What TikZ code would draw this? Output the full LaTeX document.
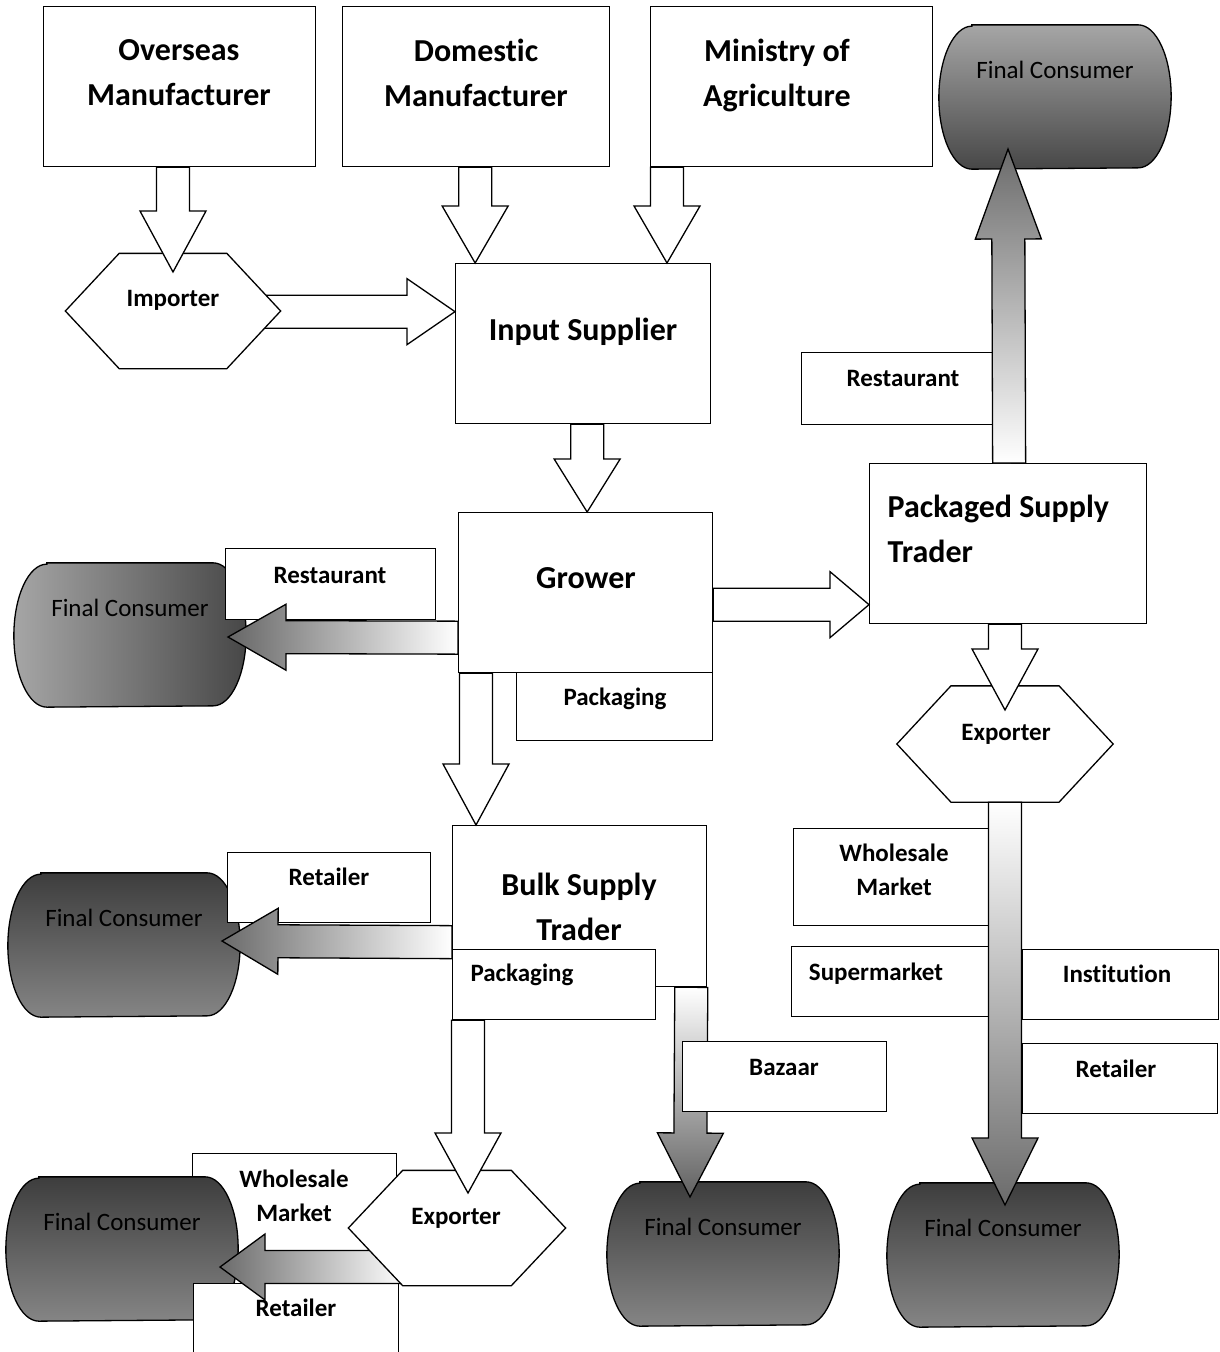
\documentclass[tikz,border=0pt]{standalone}
\usepackage{fontspec}
\setmainfont{Carlito}[Ligatures=NoCommon]
\usetikzlibrary{calc}

\tikzset{
  box/.style 2 args={draw, fill=white, anchor=north west, inner sep=0,
    minimum width=#1, minimum height=#2},
  shapeframe/.style 2 args={inner sep=0, minimum width=#1, minimum height=#2},
  big/.style={font=\fontsize{32}{45}\selectfont\bfseries, inner sep=0,
    text height=20.5pt, text depth=0pt},
  bigtwo/.style={font=\fontsize{32}{45}\selectfont\bfseries, inner sep=0, align=center},
  sml/.style={font=\fontsize{25}{34}\selectfont\bfseries, inner sep=0,
    text height=16pt, text depth=0pt},
  smltwo/.style={font=\fontsize{25}{34}\selectfont\bfseries, inner sep=0, align=center},
  fc/.style={font=\fontsize{25}{30}\selectfont, text=black, inner sep=0,
    text height=16pt, text depth=0pt},
  darkcons/.style={top color=black!76, bottom color=black!48},
}

% block arrow: [fill]{from}{to}{head length}
\newcommand{\fatarrow}[4][fill=white]{%
  \coordinate (fa-h) at ($(#3)!#4pt!(#2)$);
  \draw[#1] ($(#2)!16.5pt!90:(#3)$) -- ($(fa-h)!16.5pt!90:(#3)$)
    -- ($(fa-h)!33pt!90:(#3)$) -- (#3) -- ($(fa-h)!33pt!-90:(#3)$)
    -- ($(fa-h)!16.5pt!-90:(#3)$) -- ($(#2)!16.5pt!-90:(#3)$) -- cycle;}

% hexagon: {name}{centre}{width}{height}
\newcommand{\hexa}[4]{%
  \node[shapeframe={#3}{#4}] (#1) at (#2) {};
  \draw[fill=white] (#1.west) -- ($(#1.north west)!.25!(#1.north east)$)
    -- ($(#1.north west)!.75!(#1.north east)$) -- (#1.east)
    -- ($(#1.south west)!.75!(#1.south east)$)
    -- ($(#1.south west)!.25!(#1.south east)$) -- cycle;}

% final consumer drum: {name}{centre}{shading}
\newcommand{\consumer}[3]{%
  \node[shapeframe={231}{143}] (#1) at (#2) {};
  \draw[#3] ([xshift=33pt]#1.north west) -- ([xshift=-33pt]#1.north east)
    arc[start angle=90, end angle=-90, x radius=33pt, y radius=71.5pt]
    -- ([xshift=33pt]#1.south west)
    arc[start angle=270, end angle=90, x radius=33pt, y radius=71.5pt] -- cycle;
  \node[fc] (#1-t) at ([yshift=27pt]#1.center) {Final Consumer};}

\begin{document}
\begin{tikzpicture}[x=1pt, y=-1pt, line width=1.3pt]
\useasboundingbox (0,0) rectangle (1219,1352);

% input side
\node[box={272}{160}] (over) at (43,6) {};
\node[bigtwo] (over-t) at (179,73) {Overseas\\Manufacturer};
\node[box={267}{160}] (dom) at (342,6) {};
\node[bigtwo] (dom-t) at (476,73) {Domestic\\Manufacturer};
\node[box={282}{160}] (min) at (650,6) {};
\node[bigtwo] (min-t) at (777,75) {Ministry of\\Agriculture};

\node[box={255}{160}] (inp) at (455,263) {};
\node[big] (inp-t) at (583,330) {Input Supplier};
\coordinate (a4t) at ([yshift=32pt]inp.west);
\coordinate (a4s) at ([xshift=-200pt]a4t);
\fatarrow{a4s}{a4t}{48}
\hexa{imp}{173,311}{214}{114}
\node[sml] (imp-t) at (173,298) {Importer};
\coordinate (a1t) at ([yshift=39pt]imp.center);
\fatarrow{a1t |- over.south}{a1t}{61}
\coordinate (a2s) at ([xshift=-1pt]dom.south);
\fatarrow{a2s}{a2s |- inp.north}{57}
\coordinate (a3s) at ([xshift=17pt]min.south west);
\fatarrow{a3s}{a3s |- inp.north}{57}

% grower
\consumer{c1}{130,635}{left color=black!35, right color=black!72}
\node[box={210}{71}] (rest1) at (225,548) {};
\node[sml] (rest1-t) at (330,575) {Restaurant};
\node[box={254}{160}] (grow) at (458,512) {};
\node[big] (grow-t) at (586,578) {Grower};
\coordinate (g1s) at ([yshift=-45pt]grow.west);
\coordinate (g1t) at (228,637);
\fatarrow[left color=black!60, right color=white]{g1s}{g1t}{58}
\node[box={196}{68}] (pack1) at (516,672) {};
\node[sml] (pack1-t) at (615,697) {Packaging};
\coordinate (a5s) at ([xshift=4pt]inp.south);
\fatarrow{a5s}{a5s |- grow.north}{53}

% packaged supply
\node[box={277}{160}] (pst) at (869,463) {};
\node[bigtwo, align=left, anchor=west] (pst-t) at (887,529) {Packaged Supply\\Trader};
\coordinate (a6s) at ([yshift=-12pt]grow.east);
\fatarrow{a6s}{a6s -| pst.west}{39}
\node[box={191}{72}] (rest2) at (801,352) {};
\node[sml] (rest2-t) at (903,378) {Restaurant};
\consumer{c2}{1055,97}{top color=black!35, bottom color=black!72}
\coordinate (g2s) at ([xshift=1pt]pst.north);
\coordinate (g2t) at (1008,149);
\fatarrow[top color=black!58, bottom color=white]{g2s}{g2t}{90}
\hexa{exp1}{1005,744}{215}{115}
\node[sml] (exp1-t) at (1006,732) {Exporter};
\coordinate (a8t) at ([yshift=34pt]exp1.center);
\fatarrow{a8t |- pst.south}{a8t}{61}

\node[box={197}{97}] (whole2) at (793,828) {};
\node[smltwo] (whole2-t) at (894,870) {Wholesale\\Market};
\node[box={199}{70}] (super) at (791,946) {};
\node[sml] (super-t) at (876,972) {Supermarket};
\node[box={196}{70}] (inst) at (1022,949) {};
\node[sml] (inst-t) at (1117,974) {Institution};
\node[box={195}{70}] (ret2) at (1022,1043) {};
\node[sml] (ret2-t) at (1116,1069) {Retailer};
\consumer{c6}{1003,1255}{darkcons}
\coordinate (g6t) at (1005,1205);
\fatarrow[top color=white, bottom color=black!58]{exp1.south}{g6t}{67}

% bulk supply
\node[box={254}{161}] (bulk) at (452,825) {};
\node[bigtwo] (bulk-t) at (579,907) {Bulk Supply\\Trader};
\node[box={203}{70}] (pack2) at (452,949) {};
\node[sml] (pack2-t) at (522,973) {Packaging};
\coordinate (a7s) at ([xshift=18pt]grow.south west);
\fatarrow{a7s}{a7s |- bulk.north}{61}
\consumer{c3}{124,945}{darkcons}
\node[box={203}{70}] (ret1) at (227,852) {};
\node[sml] (ret1-t) at (329,877) {Retailer};
\coordinate (g3s) at ([yshift=-36pt]bulk.west);
\coordinate (g3t) at (222,941);
\fatarrow[left color=black!58, right color=white]{g3s}{g3t}{56}
\consumer{c5}{723,1254}{darkcons}
\coordinate (g5s) at ([xshift=-16pt]bulk.south east);
\coordinate (g5t) at (690,1197);
\fatarrow[top color=white, bottom color=black!62]{g5s}{g5t}{64}
\node[box={204}{70}] (baz) at (682,1041) {};
\node[sml] (baz-t) at (784,1067) {Bazaar};

\node[box={204}{100}] (whole1) at (192,1153) {};
\node[smltwo] (whole1-t) at (294,1196) {Wholesale\\Market};
\consumer{c4}{122,1249}{darkcons}
\node[box={205}{80}] (ret3) at (193,1283) {};
\node[sml] (ret3-t) at (296,1308) {Retailer};
\coordinate (g4s) at (405,1267);
\coordinate (g4t) at (220,1267);
\fatarrow[left color=black!58, right color=white]{g4s}{g4t}{45}
\hexa{exp2}{457,1228}{216}{114}
\node[sml] (exp2-t) at (456,1216) {Exporter};
\coordinate (a9s) at ([xshift=16pt]pack2.south west);
\coordinate (a9t) at (468,1193);
\fatarrow{a9s}{a9t}{60}
%
\end{tikzpicture}
\end{document}
